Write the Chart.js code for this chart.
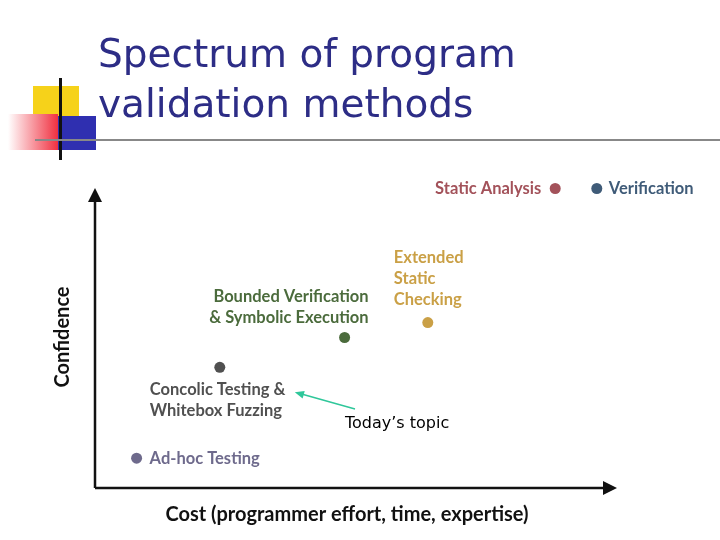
<!DOCTYPE html>
<html><head><meta charset="utf-8">
<script src="https://cdn.jsdelivr.net/npm/chart.js@4/dist/chart.umd.min.js"></script>
<style>
body{margin:0;background:#fff;}
#wrap{position:relative;width:720px;height:540px;}
canvas{position:absolute;left:0;top:0;}
</style></head>
<body><div id="wrap"><canvas id="c" width="720" height="540"></canvas></div>
<script>
// methods, positioned by cost (x) and confidence (y), both 0..10
const methods = ['Ad-hoc Testing','Concolic Testing &\nWhitebox Fuzzing','Bounded Verification\n& Symbolic Execution','Extended\nStatic\nChecking','Static Analysis','Verification'];
const cost = [0.8, 2.4, 4.8, 6.4, 8.85, 9.65];
const confidence = [1.0, 4.05, 5.05, 5.55, 10.05, 10.05];
const colors = ['#6e6a8c','#505050','#4b6b3c','#caa046','#a3525a','#3f5b78'];

// label offsets relative to point: [dx, dy, align]
const labelPos = [[13,0,'left'],[-70,22,'left'],[24,-41,'right'],[-34,-65,'left'],[-14,0,'right'],[12,0,'left']];

const decor = {
  id:'decor',
  beforeDraw(chart){
    const g = chart.ctx;
    g.save();
    g.fillStyle='#f6d21a'; g.fillRect(33,86,46,44);
    const gr = g.createLinearGradient(8,0,58,0);
    gr.addColorStop(0,'#ffffff'); gr.addColorStop(1,'#f03040');
    g.fillStyle=gr; g.fillRect(8,114,50,36);
    g.fillStyle='#2f2fb0'; g.fillRect(58,116,38,34);
    g.fillStyle='#111'; g.fillRect(59,78,3,82);
    g.fillStyle='#888'; g.fillRect(35,139,685,2);
    g.fillStyle='#2d2d86';
    g.font='39px "DejaVu Sans"';
    g.textBaseline='alphabetic';
    g.fillText('Spectrum of program',98,67);
    g.fillText('validation methods',98,117);
    g.restore();
  },
  afterDraw(chart){
    const g = chart.ctx, a = chart.chartArea;
    const xs = chart.scales.x, ys = chart.scales.y;
    g.save();
    // axes with arrowheads
    g.strokeStyle='#111'; g.fillStyle='#111'; g.lineWidth=2.5;
    g.beginPath(); g.moveTo(a.left,a.bottom); g.lineTo(a.left,a.top+8); g.stroke();
    g.beginPath(); g.moveTo(a.left,a.bottom); g.lineTo(a.right-8,a.bottom); g.stroke();
    g.beginPath(); g.moveTo(a.left,a.top-2); g.lineTo(a.left-7,a.top+12); g.lineTo(a.left+7,a.top+12); g.fill();
    g.beginPath(); g.moveTo(a.right+2,a.bottom); g.lineTo(a.right-12,a.bottom-7); g.lineTo(a.right-12,a.bottom+7); g.fill();
    // axis titles
    g.font='bold 20px Lato'; g.textAlign='center'; g.textBaseline='middle';
    g.fillText('Cost (programmer effort, time, expertise)',347,515);
    g.translate(63,337); g.rotate(-Math.PI/2); g.fillText('Confidence',0,0);
    g.setTransform(1,0,0,1,0,0);
    // point labels
    g.font='bold 16.5px Lato';
    methods.forEach((m,i)=>{
      const px = xs.getPixelForValue(cost[i]), py = ys.getPixelForValue(confidence[i]);
      const [dx,dy,al] = labelPos[i];
      g.fillStyle = colors[i]; g.textAlign = al; g.textBaseline='middle';
      m.split('\n').forEach((ln,k)=> g.fillText(ln, px+dx, py+dy+k*21));
    });
    // today's topic annotation
    const tx = xs.getPixelForValue(cost[1])+75, ty = ys.getPixelForValue(confidence[1])+25;
    g.strokeStyle='#2fc79a'; g.fillStyle='#2fc79a'; g.lineWidth=1.5;
    g.beginPath(); g.moveTo(355,409); g.lineTo(tx+4,ty+1); g.stroke();
    const ang = Math.atan2(409-ty,355-tx);
    g.beginPath(); g.moveTo(tx,ty);
    g.lineTo(tx+10*Math.cos(ang-0.4),ty+10*Math.sin(ang-0.4));
    g.lineTo(tx+10*Math.cos(ang+0.4),ty+10*Math.sin(ang+0.4)); g.fill();
    g.fillStyle='#000'; g.font='16px "DejaVu Sans"'; g.textAlign='left';
    g.fillText('Today\u2019s topic',345,424);
    g.restore();
  }
};

new Chart(document.getElementById('c'), {
  type:'scatter',
  data:{ datasets:[{
    data: cost.map((x,i)=>({x, y:confidence[i]})),
    pointBackgroundColor: colors, pointBorderWidth:0, pointRadius:5.5,
    clip:false
  }]},
  options:{
    responsive:false, animation:false,
    layout:{padding:{left:95,right:105,top:190,bottom:52}},
    plugins:{legend:{display:false},tooltip:{enabled:false}},
    scales:{
      x:{type:'linear',min:0,max:10,display:false},
      y:{type:'linear',min:0,max:10,display:false}
    }
  },
  plugins:[decor]
});
</script></body></html>
